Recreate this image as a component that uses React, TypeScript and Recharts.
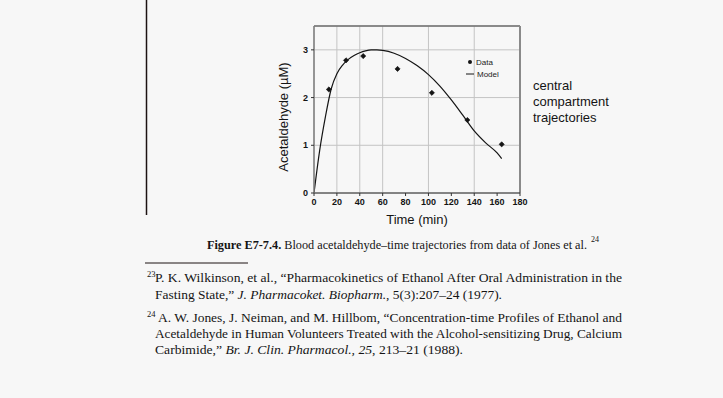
import React from 'react';
import {
  ComposedChart,
  Line,
  Scatter,
  XAxis,
  YAxis,
  CartesianGrid,
  ReferenceLine,
  Legend,
  Label,
} from 'recharts';

// Measured blood acetaldehyde (µM) vs time (min)
const dataTimes = [13, 28, 43, 73, 103, 134, 164];
const dataConc = [2.17, 2.78, 2.87, 2.6, 2.1, 1.53, 1.02];

// Fitted central-compartment model trajectory
const modelTimes = [0, 5, 10, 15, 20, 25, 30, 35, 40, 45, 50, 55, 60, 70, 80, 90, 100, 110, 120, 130, 140, 150, 160, 164];
const modelConc = [0, 0.9, 1.6, 2.18, 2.5, 2.68, 2.8, 2.88, 2.94, 2.98, 3.0, 3.0, 2.99, 2.93, 2.82, 2.67, 2.48, 2.24, 1.95, 1.63, 1.3, 1.05, 0.84, 0.72];

const xTicks = [0, 20, 40, 60, 80, 100, 120, 140, 160, 180];
const yTicks = [0, 1, 2, 3];

const observed = dataTimes.map((t, i) => ({ t, c: dataConc[i] }));
const model = modelTimes.map((t, i) => ({ t, c: modelConc[i] }));

const SANS = '"Liberation Sans", Arial, Helvetica, sans-serif';
const SERIF = '"Liberation Serif", "Times New Roman", Times, serif';
const INK = '#141414';

const Diamond = (props: any) => {
  const { cx, cy } = props;
  if (cx == null || cy == null) return null;
  const r = 2.6;
  return <path d={`M${cx},${cy - r}L${cx + r},${cy}L${cx},${cy + r}L${cx - r},${cy}Z`} fill={INK} stroke={INK} strokeWidth={0.6} />;
};

const LegendBox = () => (
  <svg width={60} height={28} style={{ overflow: 'visible', display: 'block' }}>
    <circle cx={5} cy={6} r={2} fill={INK} />
    <text x={11} y={9} fontSize={8} fontFamily={SANS} fill="#222">Data</text>
    <line x1={1} y1={18} x2={9} y2={18} stroke={INK} strokeWidth={1} />
    <text x={12} y={21} fontSize={8} fontFamily={SANS} fill="#222">Model</text>
  </svg>
);

export default function App() {
  return (
    <div style={{ position: 'absolute', left: 0, top: 0, width: 723, height: 398, background: '#f7f7f7', overflow: 'hidden' }}>
      <div style={{ position: 'absolute', left: 0, top: 0 }}>
        <ComposedChart
          width={723}
          height={240}
          margin={{ top: 26, right: 203, left: 284, bottom: 17 }}
        >
          <CartesianGrid stroke="#c4c4c4" strokeWidth={1} />
          <XAxis
            type="number"
            dataKey="t"
            domain={[0, 180]}
            ticks={xTicks}
            allowDataOverflow
            height={30}
            tickSize={3}
            tickMargin={3}
            axisLine={{ stroke: '#2a2a2a', strokeWidth: 1.2 }}
            tickLine={{ stroke: '#333' }}
            tick={{ fontSize: 9, fontWeight: 700, fontFamily: SANS, fill: INK }}
          >
            <Label
              content={() => (
                <text x={417} y={224} textAnchor="middle" fontSize={13} fontFamily={SANS} fill={INK}>
                  Time (min)
                </text>
              )}
            />
          </XAxis>
          <YAxis
            type="number"
            dataKey="c"
            domain={[0, 3.5]}
            ticks={yTicks}
            allowDataOverflow
            width={30}
            tickSize={3}
            tickMargin={3}
            axisLine={{ stroke: '#7c7c7c', strokeWidth: 1.5 }}
            tickLine={{ stroke: '#333' }}
            tick={{ fontSize: 9, fontWeight: 700, fontFamily: SANS, fill: INK }}
          >
            <Label
              content={() => (
                <text
                  x={288}
                  y={117}
                  transform="rotate(-90 288 117)"
                  textAnchor="middle"
                  fontSize={13}
                  fontFamily={SANS}
                  fill={INK}
                >
                  Acetaldehyde (µM)
                </text>
              )}
            />
          </YAxis>
          <ReferenceLine y={3.5} stroke="#6e6e6e" strokeWidth={1.5} />
          <ReferenceLine x={180} stroke="#8a8a8a" strokeWidth={2} />
          <Line
            data={model}
            dataKey="c"
            type="monotone"
            stroke={INK}
            strokeWidth={1.2}
            dot={false}
            isAnimationActive={false}
            name="Model"
          />
          <Scatter
            data={observed}
            dataKey="c"
            fill={INK}
            shape={Diamond}
            isAnimationActive={false}
            name="Data"
          />
          <Legend
            layout="horizontal"
            verticalAlign="middle"
            align="center"
            content={() => <LegendBox />}
            wrapperStyle={{ position: 'absolute', left: 465, top: 56, width: 60, height: 28 }}
          />
        </ComposedChart>
      </div>

      <svg
        width={723}
        height={398}
        style={{ position: 'absolute', left: 0, top: 0, pointerEvents: 'none' }}
      >
        {/* page margin rule */}
        <line x1={146.5} y1={0} x2={146.5} y2={215} stroke="#1c1212" strokeWidth={1.5} />

        {/* side annotation */}
        <g fontFamily={SANS} fontSize={13} fill={INK}>
          <text x={533} y={90}>central</text>
          <text x={533} y={106}>compartment</text>
          <text x={533} y={122}>trajectories</text>
        </g>

        {/* caption and its footnote marker */}
        <g fontFamily={SERIF} fill={INK}>
          <text x={207} y={249} fontSize={12.2} textLength={380} lengthAdjust="spacingAndGlyphs">
            <tspan fontWeight={700}>Figure E7-7.4.</tspan>
            <tspan> Blood acetaldehyde–time trajectories from data of Jones et al.</tspan>
          </text>
          <text x={591} y={242} fontSize={8}>24</text>
        </g>

        {/* footnote rule */}
        <line x1={145} y1={263} x2={248} y2={263} stroke="#1c1212" strokeWidth={1} />

        {/* footnotes */}
        <g fontFamily={SERIF} fill={INK} fontSize={13}>
          <text x={147} y={277} fontSize={8.5}>23</text>
          <text x={155} y={282} textLength={467} lengthAdjust="spacingAndGlyphs">
            P. K. Wilkinson, et al., “Pharmacokinetics of Ethanol After Oral Administration in the
          </text>
          <text x={155} y={299} textLength={347} lengthAdjust="spacingAndGlyphs">
            <tspan>Fasting State,” </tspan>
            <tspan fontStyle="italic">J. Pharmacoket. Biopharm.</tspan>
            <tspan>, 5(3):207–24 (1977).</tspan>
          </text>

          <text x={147} y={317} fontSize={8.5}>24</text>
          <text x={158} y={322} textLength={464} lengthAdjust="spacingAndGlyphs">
            A. W. Jones, J. Neiman, and M. Hillbom, “Concentration-time Profiles of Ethanol and
          </text>
          <text x={155} y={338} textLength={467} lengthAdjust="spacingAndGlyphs">
            Acetaldehyde in Human Volunteers Treated with the Alcohol-sensitizing Drug, Calcium
          </text>
          <text x={155} y={354} textLength={308} lengthAdjust="spacingAndGlyphs">
            <tspan>Carbimide,” </tspan>
            <tspan fontStyle="italic">Br. J. Clin. Pharmacol., 25</tspan>
            <tspan>, 213–21 (1988).</tspan>
          </text>
        </g>
      </svg>
    </div>
  );
}
